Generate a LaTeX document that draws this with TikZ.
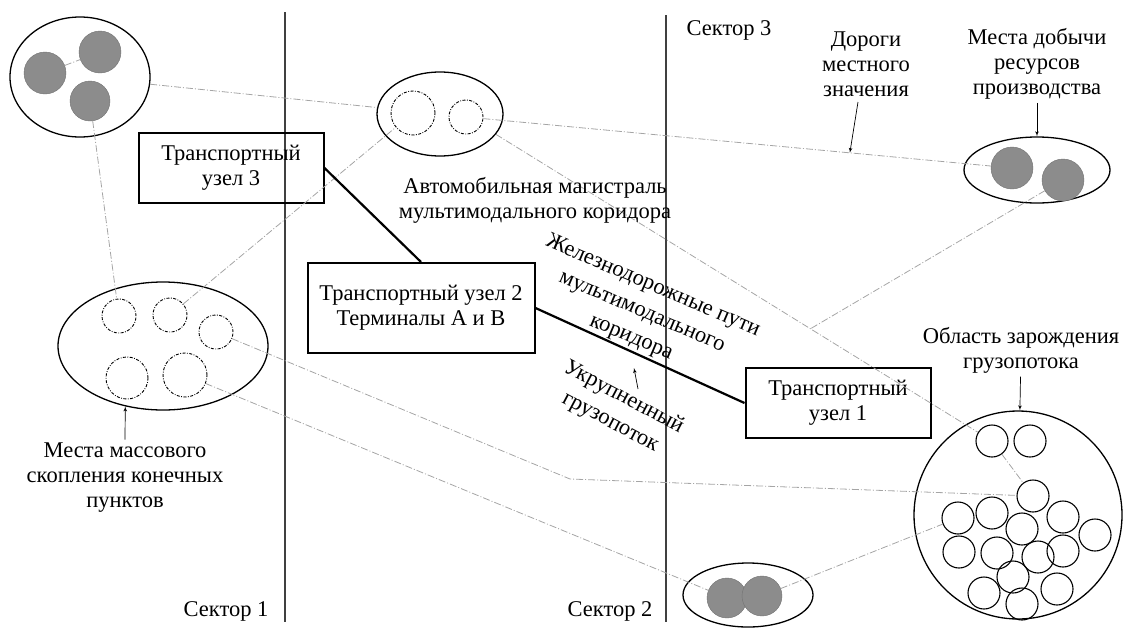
\documentclass[tikz,border=0pt]{standalone}
\usepackage{fontspec}
\setmainfont{Liberation Serif}
\usetikzlibrary{arrows, shapes.geometric, calc}

\definecolor{spotfill}{RGB}{140,140,140}
\definecolor{spotline}{RGB}{115,115,115}
\definecolor{roadgray}{RGB}{165,165,165}

\begin{document}
\begin{tikzpicture}[x=1pt, y=-1pt, >=latex',
  every node/.style={font=\fontsize{22.5}{25}\selectfont, align=center},
  hubbox/.style={draw, rectangle, line width=2pt, minimum width=185, minimum height=70},
  zone/.style={draw, ellipse, line width=1.3pt, inner sep=0pt},
  fullspot/.style={draw=spotline, fill=spotfill, circle, inner sep=0pt, minimum size=#1},
  endspot/.style={draw, line width=0.9pt, dash pattern=on 3pt off 1.5pt on 0.8pt off 1.5pt, circle, inner sep=0pt, minimum size=#1},
  srcspot/.style={draw, circle, line width=1.1pt, inner sep=0pt, minimum size=32},
  road/.style={draw=roadgray, line width=0.8pt, dash pattern=on 7pt off 2pt on 1pt off 2pt},
  rail/.style={draw=black, line width=2.2pt},
  border/.style={draw=black!75, line width=1.5pt},
  note/.style={->, line width=0.7pt}
]
  \useasboundingbox (0,0) rectangle (1124,627);

  %% sector borders
  \coordinate (s1t) at (285,12);  % invisible point
  \coordinate (s1b) at (285,622); % invisible point
  \coordinate (s2t) at (666,15);  % invisible point
  \coordinate (s2b) at (666,622); % invisible point
  \draw[border] (s1t) -- (s1b);
  \draw[border] (s2t) -- (s2b);
  \node (sec1) at (226,611) {Сектор 1};
  \node (sec2) at (610,611) {Сектор 2};
  \node (sec3) at (729,30) {Сектор 3};

  %% zones
  \node (res) at (80,77) [zone, minimum width=140, minimum height=120] {};
  \node (g1) at (45,73) [fullspot=42] {};
  \node (g2) at (100,52) [fullspot=42] {};
  \node (g3) at (90,101) [fullspot=40] {};

  \node (hub) at (440,114) [zone, minimum width=126, minimum height=84] {};
  \node (d1) at (413,113) [endspot=44] {};
  \node (d2) at (466,117) [endspot=34] {};

  \node (dest) at (163,346) [zone, minimum width=210, minimum height=128] {};
  \node (e1) at (119,316) [endspot=34] {};
  \node (e2) at (170,315) [endspot=34] {};
  \node (e3) at (216,332) [endspot=34] {};
  \node (e4) at (127,378) [endspot=42] {};
  \node (e5) at (185,375) [endspot=44] {};

  \node (mine) at (1037,170) [zone, minimum width=146, minimum height=66] {};
  \node (m1) at (1012,168) [fullspot=42] {};
  \node (m2) at (1063,180) [fullspot=42] {};

  \node (yard) at (748,595) [zone, minimum width=130, minimum height=64] {};
  \node (y1) at (727,598) [fullspot=40] {};
  \node (y2) at (762,596) [fullspot=40] {};

  \node (area) at (1018,515) [draw, circle, line width=1.3pt, inner sep=0pt, minimum size=208] {};
  \foreach \n/\x/\y in {1/992/441, 2/1030/441, 3/1033/496, 4/958/518,
      5/992/513, 6/1022/529, 7/1063/517, 8/1095/535, 9/959/552,
      10/997/553, 11/1038/557, 12/1063/551, 13/1013/577, 14/984/593,
      15/1022/604, 16/1057/589}
    \node (a\n) at (\x,\y) [srcspot] {};

  %% transport hubs
  \node (hub3) at (231,168) [hubbox] {Транспортный\\узел 3};
  \node (hub2) at (421,308) [hubbox, minimum width=227, minimum height=90] {Транспортный узел 2\\Терминалы А и В};
  \node (hub1) at (838,403) [hubbox] {Транспортный\\узел 1};

  %% roads
  \coordinate (bend) at (570,479); % invisible point
  \coordinate (junc) at ($(hub.-20)!0.634!(a1)$); % invisible point
  \coordinate (roadpt) at ($(d2)!0.703!(m1)$); % invisible point
  \draw[road] (g1) -- (g2);
  \draw[road] (res) -- (hub);
  \draw[road] (g3) -- (e1);
  \draw[road] (e2) -- (d1);
  \draw[road] (e3) -- (bend) -- (a3);
  \draw[road] (e5) -- (y1);
  \draw[road] (d2) -- (m1);
  \draw[road] (hub.-20) -- (a1);
  \draw[road] (a1) -- (a3);
  \draw[road] (m2) -- (junc);
  \draw[road] (y2) -- (a4);

  %% railway
  \draw[rail] (hub3.east) -- (hub2.north);
  \draw[rail] (hub2.east) -- (hub1.west);

  %% labels
  \node (lmass) at (125,478) {Места массового\\скопления конечных\\пунктов};
  \node (lroads) at (866,64) {Дороги\\местного\\значения};
  \node (lmines) at (1037,64) {Места добычи\\ресурсов\\производства};
  \node (lorigin) at (1021,350) {Область зарождения\\грузопотока};
  \node (lhighway) at (535,200) {Автомобильная магистраль\\мультимодального коридора};
  \node (lrail) at (642,312) [rotate=-23, font=\fontsize{22.5}{28}\selectfont] {Железнодорожные пути\\мультимодального\\коридора};
  \node (lbulk) at (617,410) [rotate=-28, font=\fontsize{22.5}{28}\selectfont] {Укрупненный\\грузопоток};

  \coordinate (bulkfrom) at (638,389); % invisible point
  \coordinate (bulktip) at (634,368);  % invisible point
  \draw[note] (lmass.north) -- (dest.238);
  \draw[note] ($(lroads.south)+(-8,2)$) -- (roadpt);
  \draw[note] (lmines) -- (mine);
  \draw[note] (lorigin) -- (area);
  \draw[note] (bulkfrom) -- (bulktip);
\end{tikzpicture}
\end{document}
